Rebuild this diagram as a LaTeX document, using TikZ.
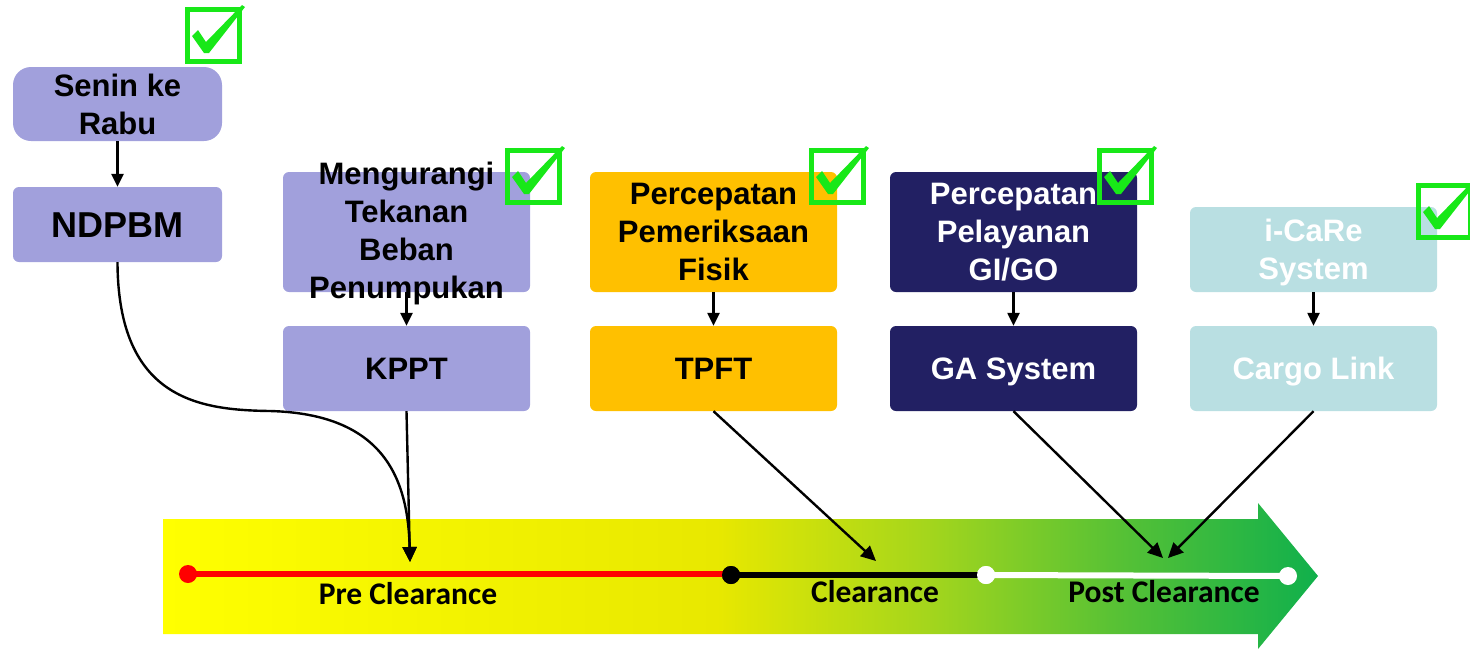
\documentclass[tikz,border=0pt]{standalone}
\usepackage{fontspec}
\setmainfont{Liberation Sans}
\newfontfamily\calib{Carlito}
\usetikzlibrary{arrows.meta}
\definecolor{lav}{RGB}{161,160,220}
\definecolor{orng}{RGB}{255,192,0}
\definecolor{navy}{RGB}{34,32,99}
\definecolor{teal}{RGB}{185,223,226}
\definecolor{chk}{RGB}{24,232,24}
\definecolor{cA}{RGB}{255,255,0}
\definecolor{cB}{RGB}{232,232,0}
\definecolor{cC}{RGB}{165,214,28}
\definecolor{cD}{RGB}{90,194,52}
\definecolor{cE}{RGB}{16,176,76}
\pgfdeclarehorizontalshading{barshade}{100bp}{color(0bp)=(cA); color(25bp)=(cA); color(49bp)=(cB); color(58bp)=(cC); color(66bp)=(cD); color(75bp)=(cE); color(100bp)=(cE)}
\begin{document}
\begin{tikzpicture}[x=1pt,y=-1pt,
  box/.style={inner sep=0pt, rounded corners=6pt, minimum width=247pt, minimum height=85pt,
    font=\fontsize{31}{38}\selectfont\bfseries, align=center},
  one/.style={box, text height=22pt, text depth=0pt},
  tall/.style={box, minimum height=120pt},
  lbl/.style={font=\fontsize{31}{38}\selectfont\bfseries, align=center, inner sep=0pt},
  clr/.style={font=\calib\fontsize{31.5}{34}\selectfont\bfseries, inner sep=0pt},
  conn/.style={line width=2.4pt, -{Triangle[length=15pt,width=14pt]}},
  short/.style={line width=2.4pt, -{Triangle[length=13pt,width=12pt]}},
  dot/.style={circle, inner sep=0pt, minimum size=18pt},
  checkbox/.pic={
    \draw[chk, line width=5pt] (0,0) rectangle (52,52);
    \fill[chk] (5,27) -- (11,21) -- (19,33) -- (55,-4) -- (58,-2) -- (22,44) -- (17,44) -- cycle;
  }]
\useasboundingbox (0,0) rectangle (1470,649);

% big arrow
\shade[shading=barshade] (163,519) -- (1258,519) -- (1258,503) -- (1318,576) -- (1258,649) -- (1258,634) -- (163,634) -- cycle;

% timeline
\node[dot, fill=red] (d1) at (188,574) {};
\node[dot, fill=black] (d2) at (731,575) {};
\node[dot, fill=white] (d3) at (986,575) {};
\node[dot, fill=white] (d4) at (1288,576) {};
\draw[red, line width=6pt] (d1.center) -- (728,574);
\node[dot, fill=black] at (731,575) {};
\draw[black, line width=6pt] (d2.center) -- (d3.center);
\draw[white, line width=6pt] (d3.center) -- (d4.center);
\node[dot, fill=white] at (986,575) {};

\node[clr] (pre) at (408,594) {Pre Clearance};
\node[clr] (clear) at (875,592) {Clearance};
\node[clr] (post) at (1164,592) {Post Clearance};

% boxes
\node[box, fill=lav, minimum width=209pt, minimum height=74pt, rounded corners=18pt] (senin) at (117.5,104) {Senin ke\\Rabu};
\node[one, fill=lav, minimum width=209pt, minimum height=75pt, font=\fontsize{36}{40}\selectfont\bfseries, text height=26pt] (ndpbm) at (117.5,224.5) {NDPBM};

\node[tall, fill=lav] (meng) at (406.5,232) {};
\node[lbl] (mengt) at (406.5,233) {Mengurangi\\Tekanan\\Beban\\Penumpukan};
\node[one, fill=lav] (kppt) at (406.5,368.5) {KPPT};

\node[tall, fill=orng] (perc) at (713.5,232) {Percepatan\\Pemeriksaan\\Fisik};
\node[one, fill=orng] (tpft) at (713.5,368.5) {TPFT};

\node[tall, fill=navy, text=white] (gigo) at (1013.5,232) {Percepatan\\Pelayanan\\GI/GO};
\node[one, fill=navy, text=white] (ga) at (1013.5,368.5) {GA System};

\node[box, fill=teal] (icare) at (1313.5,249.5) {};
\node[lbl, text=white] (icaret) at (1313.5,252) {i-CaRe\\System};
\node[one, fill=teal, text=white] (cargo) at (1313.5,368.5) {Cargo Link};

% check marks
\pic at (187,9) {checkbox};
\pic at (507,150) {checkbox};
\pic at (811,150) {checkbox};
\pic at (1099,150) {checkbox};
\pic at (1418,185) {checkbox};

% short arrows
\draw[short] (senin.south) -- (ndpbm.north);
\draw[short] (meng.south) -- (kppt.north);
\draw[short] (perc.south) -- (tpft.north);
\draw[short] (gigo.south) -- (ga.north);
\draw[short] (icare.south) -- (cargo.north);

% connectors to the timeline
\coordinate (preT) at (410,562);
\coordinate (clrT) at (876,561);
\coordinate (postA) at (1163,558);
\coordinate (postB) at (1168,558);
\draw[conn] (ndpbm.south) .. controls (118,400) and (200,410) .. (270,411) .. controls (385,414) and (408,480) .. (preT);
\draw[conn] (kppt.south) -- (preT);
\draw[conn] (tpft.south) -- (clrT);
\draw[conn] (ga.south) -- (postA);
\draw[conn] (cargo.south) -- (postB);
\end{tikzpicture}
\end{document}
